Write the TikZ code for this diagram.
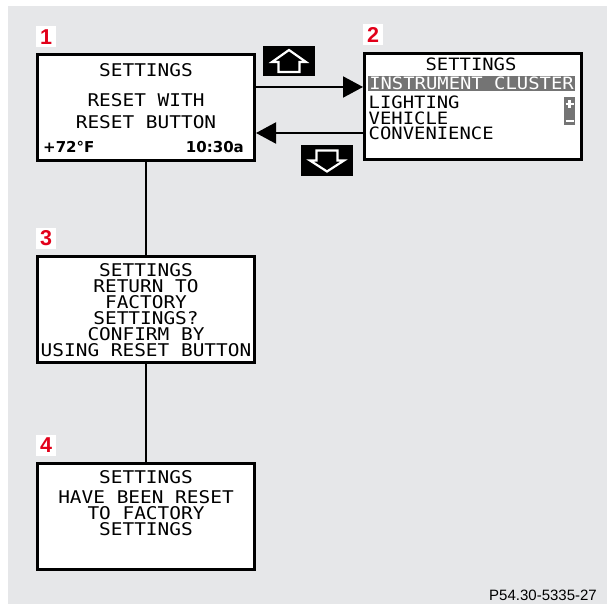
\documentclass[tikz,border=0pt]{standalone}
\usepackage{fontspec}
\usetikzlibrary{arrows.meta,positioning}
\setmainfont{Liberation Sans}
\newfontfamily\lcdfont[FakeStretch=1.11]{DejaVu Sans Mono}
\newfontfamily\dvfont{DejaVu Sans}
\definecolor{fond}{HTML}{E6E7E9}
\definecolor{rouge}{HTML}{E2001A}
\definecolor{grisfonce}{HTML}{747474}

\begin{document}
\begin{tikzpicture}[x=1pt,y=-1pt,
  ecran/.style={draw,line width=3pt,fill=white,minimum width=217,minimum height=106,inner sep=0},
  lcd/.style={font=\lcdfont\fontsize{17.5}{16}\selectfont,inner sep=0,align=center,anchor=north},
  lcdb/.style={lcd,font=\lcdfont\fontsize{17}{15.5}\selectfont},
  num/.style={fill=white,text=rouge,font=\bfseries\fontsize{21.5}{22}\selectfont,minimum width=20,minimum height=21,inner sep=0},
  touche/.style={fill=black,minimum width=52,minimum height=31,inner sep=0},
  fl/.style={white,line width=2.2pt,line join=miter},
  f/.style={-{Triangle[length=20pt,width=21pt]},line width=2pt},
  l/.style={line width=2pt}]
  \useasboundingbox (0,0) rectangle (607,604);
  \fill[fond] (8,6) rectangle (607,604);
  % ---- ecrans
  \node[ecran] (e1) at (146,107.5) {};
  \node[ecran] (e2) at (473,106.5) {};
  \node[ecran] (e3) at (146,309.5) {};
  \node[ecran] (e4) at (146,516.5) {};
  \node[num] (n1) at (46,37) {1};
  \node[num] (n2) at (373,35) {2};
  \node[num] (n3) at (46,238) {3};
  \node[num] (n4) at (46,445) {4};
  % ---- 1
  \node[lcd] (t1a) at (146,63) {SETTINGS};
  \node[lcd,font=\lcdfont\fontsize{17.5}{22}\selectfont] (t1b) at (146,93) {RESET WITH\\RESET BUTTON};
  \node[font=\dvfont\bfseries\fontsize{15}{15}\selectfont,inner sep=0,anchor=base west] (temp) at (43,153) {+72°F};
  \node[font=\dvfont\bfseries\fontsize{15}{15}\selectfont,inner sep=0,anchor=base east] (heure) at (244,153) {10:30a};
  % ---- 2
  \node[lcdb] (t2a) at (471,58) {SETTINGS};
  \node[lcdb,anchor=center,fill=grisfonce,text=white,minimum width=207,minimum height=15] (sel) at (471.5,83.5) {INSTRUMENT CLUSTER};
  \node[lcdb,align=left,anchor=north west] (menu) at (368.5,96) {LIGHTING\\VEHICLE\\CONVENIENCE};
  \node[fill=grisfonce,minimum width=11,minimum height=28,inner sep=0] (scroll) at (569.5,111) {};
  \draw[white,line width=2.2pt] ([yshift=-7.5pt]scroll.north) ++(-4,0) -- ++(8,0) ++(-4,-4) -- ++(0,8);
  \draw[white,line width=2.2pt] ([yshift=4pt]scroll.south) ++(-4,0) -- ++(8,0);
  % ---- 3 et 4
  \node[lcd] (t3) at (146,263) {SETTINGS\\RETURN TO\\FACTORY\\SETTINGS?\\CONFIRM BY\\USING RESET BUTTON};
  \node[lcd] (t4) at (146,470) {SETTINGS\\[4.5pt]HAVE BEEN RESET\\TO FACTORY\\SETTINGS};
  % ---- touches
  \node[touche,minimum height=30] (haut) at (289,61) {};
  \node[touche] (bas) at (327,160.5) {};
  \draw[fl,shift={(haut.center)}] (0,-11) -- (-17,1) -- (-10.5,1) -- (-10.5,11) -- (10.5,11) -- (10.5,1) -- (17,1) -- cycle;
  \draw[fl,shift={(bas.center)}] (0,11) -- (-17,0) -- (-10.5,0) -- (-10.5,-10) -- (10.5,-10) -- (10.5,0) -- (17,0) -- cycle;
  % ---- liaisons
  \coordinate (aller) at ([yshift=20.5pt]e1.east);
  \coordinate (retour) at ([yshift=-25.5pt]e1.east);
  \draw[f] (aller) -- (aller -| e2.west);
  \draw[f] (retour -| e2.west) -- (retour);
  \draw[l] (e1) -- (e3);
  \draw[l] (e3) -- (e4);
  \node[font=\fontsize{15}{15}\selectfont,inner sep=0,anchor=base east] (ref) at (597,600) {P54.30-5335-27};
\end{tikzpicture}
\end{document}
